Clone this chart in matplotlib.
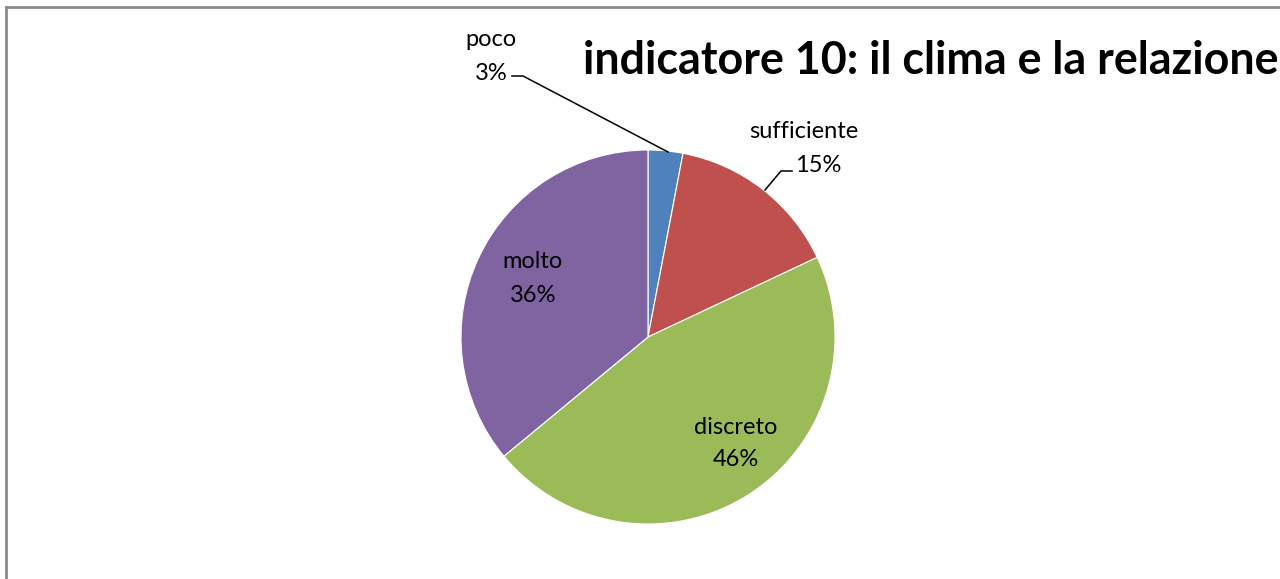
import matplotlib
matplotlib.use("Agg")
import matplotlib.pyplot as plt
from matplotlib.lines import Line2D

categories = ["poco", "sufficiente", "discreto", "molto"]
values = [3, 15, 46, 36]
colors = ["#4F81BD", "#C0504D", "#9BBB59", "#8064A2"]
title = "indicatore 10: il clima e la relazione"

W, H = 1280, 579
fig = plt.figure(figsize=(W / 100, H / 100), dpi=100)
ax = fig.add_axes([0, 0, 1, 1])

cx, cy, r = 648, H - 337, 187
ax.pie(values, colors=colors, startangle=90, counterclock=False,
       center=(cx, cy), radius=r, frame=True,
       wedgeprops=dict(edgecolor="white", linewidth=0.8))
ax.set_xlim(0, W)
ax.set_ylim(0, H)
ax.set_aspect("equal")
ax.axis("off")

font = "Lato"
fs = 17
total = sum(values)
pcts = [f"{round(v * 100 / total)}%" for v in values]

def lab(x, y1, y2, name, pct, x2=None):
    ax.text(x, H - y1, name, ha="center", va="center", fontsize=fs,
            family=font, color="black")
    ax.text(x if x2 is None else x2, H - y2, pct, ha="center", va="center",
            fontsize=fs, family=font, color="black")

lab(491, 40, 73, categories[0], pcts[0])
lab(804, 132, 165, categories[1], pcts[1], x2=818)
lab(736, 427, 460, categories[2], pcts[2])
lab(533, 261, 295, categories[3], pcts[3])

# leader lines
ax.plot([512, 523, 668], [H - 76, H - 76, H - 152], color="black", lw=1.1)
ax.plot([765, 781, 792], [H - 190, H - 171, H - 171], color="black", lw=1.1)

ax.text(583, H - 61, title, ha="left", va="center", fontsize=32.3,
        fontweight="bold", family=font, color="black", clip_on=False)

# chart border
fig.add_artist(Line2D([6 / W, 1], [1 - 7 / H, 1 - 7 / H], color="#8c8c8c", lw=2))
fig.add_artist(Line2D([6 / W, 6 / W], [0, 1 - 7 / H], color="#8c8c8c", lw=2))

fig.savefig("out.png", dpi=100, facecolor="white")
